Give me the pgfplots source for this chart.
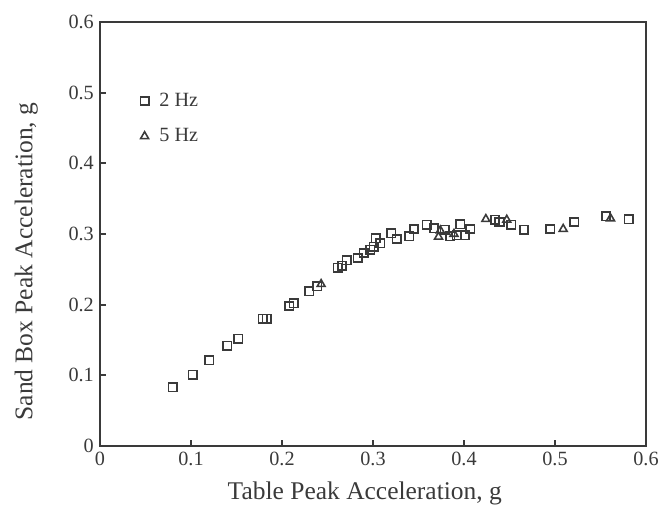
\documentclass[border=0pt]{standalone}
\usepackage{fontspec}
\setmainfont{Liberation Serif}
\usepackage{pgfplots}
\pgfplotsset{compat=1.18}
\definecolor{ink}{HTML}{3A3A3A}
\begin{document}
\begin{tikzpicture}
\useasboundingbox (-2cm,-1.28cm) rectangle (11.22cm,8.92cm);
\begin{axis}[
  scale only axis,
  width=10.92cm, height=8.48cm,
  xmin=0, xmax=0.6, ymin=0, ymax=0.6,
  xtick={0,0.1,...,0.6}, ytick={0,0.1,...,0.6},
  xticklabels={0,0.1,0.2,0.3,0.4,0.5,0.6},
  yticklabels={0,0.1,0.2,0.3,0.4,0.5,0.6},
  tick align=inside, tick pos=left,
  major tick length=0.12cm,
  axis line style={ink, line width=1pt},
  every tick/.style={ink, line width=1pt},
  ticklabel style={font=\fontsize{11.5}{12}\selectfont, text=ink},
  /pgf/number format/assume math mode=true,
  xlabel={Table Peak Acceleration, g},
  ylabel={Sand Box Peak Acceleration, g},
  label style={font=\fontsize{14.5}{16}\selectfont, text=ink},
  xlabel style={at={(axis description cs:0.485,-0.113)}, anchor=center},
  ylabel style={at={(axis description cs:-0.135,0.435)}, anchor=center},
  legend style={at={(axis cs:0.044,0.505)}, anchor=north west, draw=none, fill=none,
    font=\fontsize{11.5}{12}\selectfont, text=ink, row sep=7pt, inner sep=0pt},
  legend cell align=left,
]
\addplot[only marks, mark=square, mark size=2.4pt, mark options={ink, line width=0.9pt}] coordinates {
(0.080,0.083) (0.102,0.101) (0.120,0.121) (0.140,0.142) (0.152,0.152)
(0.179,0.180) (0.183,0.180) (0.208,0.198) (0.213,0.202) (0.230,0.219)
(0.239,0.226) (0.261,0.252) (0.266,0.255) (0.271,0.263) (0.283,0.266)
(0.290,0.273) (0.297,0.278) (0.301,0.282) (0.303,0.294) (0.308,0.287)
(0.320,0.301) (0.326,0.293) (0.340,0.297) (0.345,0.307) (0.359,0.313)
(0.367,0.308) (0.379,0.306) (0.385,0.297) (0.392,0.298) (0.396,0.314)
(0.401,0.298) (0.407,0.307) (0.434,0.320) (0.439,0.317) (0.452,0.313)
(0.466,0.306) (0.495,0.307) (0.521,0.317) (0.556,0.325) (0.581,0.321)
};
\addlegendentry{\hspace{4pt}2 Hz}
\addplot[only marks, mark=triangle, mark size=2.6pt, mark options={ink, line width=0.9pt}] coordinates {
(0.243,0.229) (0.372,0.296) (0.374,0.305) (0.389,0.300) (0.424,0.321)
(0.447,0.320) (0.509,0.307) (0.561,0.322)
};
\addlegendentry{\hspace{4pt}5 Hz}
\end{axis}
\end{tikzpicture}
\end{document}
